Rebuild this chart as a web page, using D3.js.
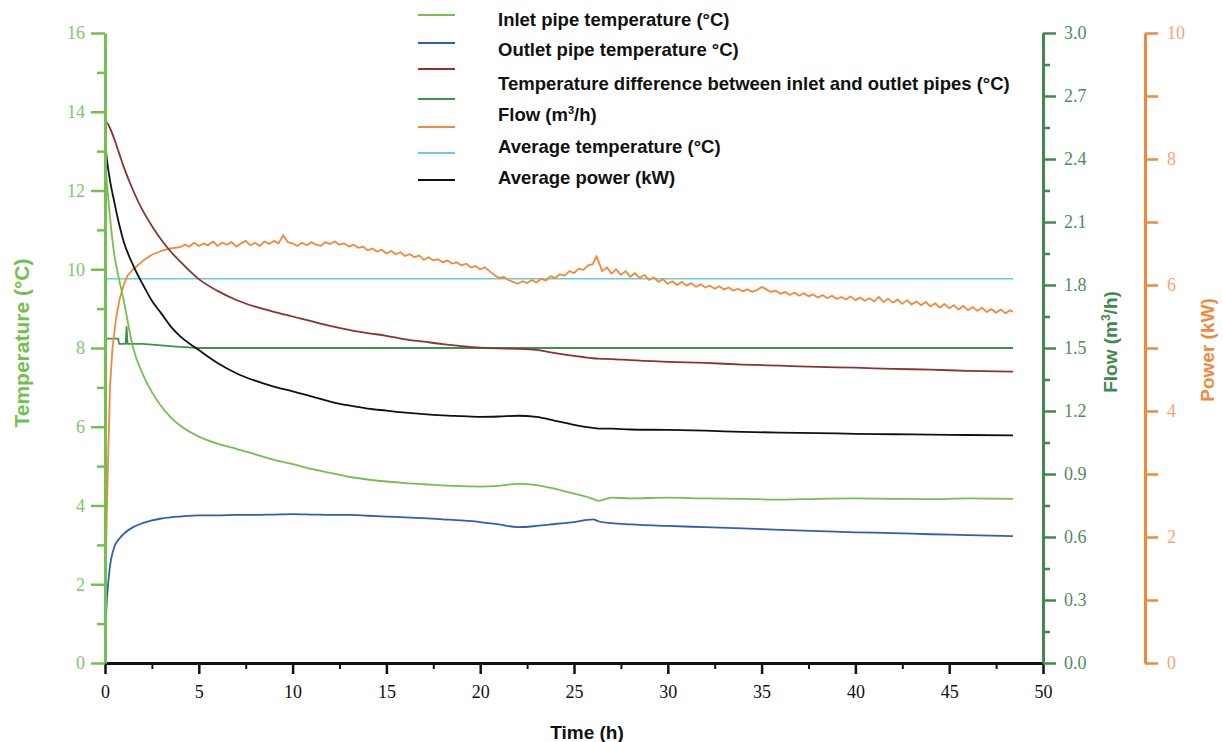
<!DOCTYPE html>
<html>
<head>
<meta charset="utf-8">
<script src="https://cdn.jsdelivr.net/npm/d3@7"></script>
<style>
  body { margin: 0; background: #fff; }
  text { font-family: "Liberation Sans", Arial, sans-serif; }
</style>
</head>
<body>
<script>
var width = 1223,
    height = 742;

// hours sampled for the smooth temperature curves
var hours = [0, 0.1, 0.25, 0.5, 0.75, 1, 1.5, 2, 2.5, 3, 3.5, 4, 5, 6, 7, 8, 9, 10, 11, 12, 13, 14,
    15, 16, 17, 18, 19, 20, 21, 22, 23, 24, 25, 26, 26.3, 27, 28, 30, 32, 34, 36, 38, 40, 42, 44, 46, 48.4];

var inletTemp = [12.8, 12.2, 11.4, 10.35, 9.75, 9.2, 8.0, 7.35, 6.88, 6.52, 6.24, 6.03, 5.75, 5.57, 5.44,
    5.3, 5.16, 5.05, 4.93, 4.83, 4.73, 4.66, 4.61, 4.57, 4.54, 4.51, 4.49, 4.48, 4.5, 4.55, 4.52, 4.42,
    4.3, 4.17, 4.12, 4.2, 4.18, 4.2, 4.18, 4.17, 4.15, 4.17, 4.18, 4.17, 4.16, 4.18, 4.17];

var outletTemp = [0.7, 1.6, 2.4, 2.95, 3.15, 3.28, 3.45, 3.55, 3.62, 3.67, 3.7, 3.72, 3.75, 3.75, 3.76,
    3.76, 3.77, 3.78, 3.77, 3.76, 3.76, 3.74, 3.72, 3.7, 3.68, 3.65, 3.62, 3.58, 3.52, 3.45, 3.48, 3.53,
    3.58, 3.65, 3.6, 3.55, 3.52, 3.48, 3.45, 3.42, 3.38, 3.35, 3.32, 3.3, 3.27, 3.25, 3.22];

var tempDiff = [13.72, 13.72, 13.6, 13.3, 12.95, 12.6, 12.0, 11.5, 11.1, 10.75, 10.45, 10.2, 9.75, 9.45,
    9.22, 9.05, 8.92, 8.8, 8.68, 8.56, 8.46, 8.38, 8.31, 8.22, 8.16, 8.1, 8.05, 8.01, 7.99, 7.98, 7.95,
    7.87, 7.8, 7.74, 7.73, 7.72, 7.69, 7.65, 7.62, 7.58, 7.55, 7.52, 7.5, 7.47, 7.45, 7.42, 7.4];

var blackCurve = [13.3, 12.8, 12.3, 11.7, 11.15, 10.7, 10.1, 9.63, 9.2, 8.88, 8.55, 8.3, 7.95, 7.62,
    7.36, 7.17, 7.02, 6.9, 6.77, 6.64, 6.54, 6.46, 6.41, 6.36, 6.32, 6.29, 6.27, 6.25, 6.26, 6.28, 6.25,
    6.15, 6.05, 5.97, 5.95, 5.95, 5.93, 5.92, 5.9, 5.87, 5.85, 5.84, 5.82, 5.81, 5.8, 5.79, 5.78];

// flow (m3/h)
var flowHours = [0, 0.7, 0.75, 1.1, 1.15, 1.2, 2, 4, 5, 48.4];
var flow = [1.545, 1.545, 1.52, 1.52, 1.6, 1.52, 1.52, 1.505, 1.5, 1.5];

// average temperature (°C)
var avgHours = [0, 48.4];
var avgTemp = [9.76, 9.76];

// orange curve (kW)
var powerHours = [0, 0.05, 0.1, 0.18, 0.27, 0.4, 0.6, 0.8, 1, 1.2, 1.5, 2, 2.5, 3, 3.5,
    4, 4.25, 4.5, 4.75, 5, 5.25, 5.5, 5.75, 6, 6.25, 6.5, 6.75, 7, 7.25, 7.5, 7.75,
    8, 8.25, 8.5, 8.75, 9, 9.25, 9.5, 9.75, 10, 10.25, 10.5, 10.75, 11, 11.25, 11.5, 11.75,
    12, 12.25, 12.5, 12.75, 13, 13.25, 13.5, 13.75, 14, 14.25, 14.5, 14.75, 15, 15.25, 15.5, 15.75,
    16, 16.25, 16.5, 16.75, 17, 17.25, 17.5, 17.75, 18, 18.25, 18.5, 18.75, 19, 19.25, 19.5, 19.75,
    20, 20.25, 20.5, 20.75, 21, 21.25, 21.5, 21.75, 22, 22.25, 22.5, 22.75, 23, 23.25, 23.5, 23.75,
    24, 24.25, 24.5, 24.75, 25, 25.25, 25.5, 25.75, 26, 26.2,
    26.5, 26.75, 27, 27.25, 27.5, 27.75, 28, 28.25, 28.5, 28.75, 29, 29.25, 29.5, 29.75,
    30, 30.25, 30.5, 30.75, 31, 31.25, 31.5, 31.75, 32, 32.25, 32.5, 32.75, 33, 33.25, 33.5, 33.75,
    34, 34.25, 34.5, 34.75, 35, 35.25, 35.5, 35.75, 36, 36.25, 36.5, 36.75, 37, 37.25, 37.5, 37.75,
    38, 38.25, 38.5, 38.75, 39, 39.25, 39.5, 39.75, 40, 40.25, 40.5, 40.75, 41, 41.25, 41.5, 41.75,
    42, 42.25, 42.5, 42.75, 43, 43.25, 43.5, 43.75, 44, 44.25, 44.5, 44.75, 45, 45.25, 45.5, 45.75,
    46, 46.25, 46.5, 46.75, 47, 47.25, 47.5, 47.75, 48, 48.25, 48.4];
var power = [0.6, 1.6, 2.4, 3.4, 4.4, 5.0, 5.5, 5.8, 6.0, 6.15, 6.25, 6.38, 6.48, 6.54, 6.58,
    6.60, 6.64, 6.61, 6.67, 6.62, 6.66, 6.63, 6.69, 6.62, 6.67, 6.64, 6.68, 6.61, 6.66, 6.70, 6.63,
    6.67, 6.62, 6.69, 6.65, 6.70, 6.66, 6.79, 6.68, 6.66, 6.62, 6.67, 6.63, 6.68, 6.64, 6.62, 6.68,
    6.65, 6.69, 6.64, 6.66, 6.61, 6.64, 6.59, 6.61, 6.55, 6.58, 6.53, 6.56, 6.50, 6.54, 6.49, 6.52,
    6.46, 6.49, 6.44, 6.47, 6.40, 6.44, 6.39, 6.41, 6.36, 6.39, 6.34, 6.36, 6.31, 6.34, 6.28, 6.30,
    6.25, 6.28, 6.22, 6.16, 6.11, 6.13, 6.08, 6.05, 6.02, 6.06, 6.03, 6.08, 6.04, 6.10, 6.07, 6.14,
    6.11, 6.17, 6.15, 6.22, 6.19, 6.26, 6.24, 6.31, 6.33, 6.46,
    6.22, 6.28, 6.18, 6.25, 6.16, 6.22, 6.13, 6.19, 6.11, 6.16, 6.08, 6.12, 6.05, 6.09,
    6.02, 6.06, 6.00, 6.05, 5.99, 6.03, 5.97, 6.01, 5.96, 5.99, 5.94, 5.98, 5.93, 5.96, 5.91, 5.94,
    5.90, 5.93, 5.89, 5.92, 5.97, 5.93, 5.89, 5.91, 5.86, 5.89, 5.84, 5.88, 5.83, 5.87, 5.82, 5.85,
    5.80, 5.84, 5.79, 5.83, 5.78, 5.81, 5.77, 5.82, 5.76, 5.80, 5.75, 5.79, 5.74, 5.81, 5.73, 5.78,
    5.72, 5.77, 5.70, 5.76, 5.69, 5.74, 5.68, 5.73, 5.66, 5.71, 5.64, 5.70, 5.63, 5.68, 5.61, 5.67,
    5.60, 5.65, 5.59, 5.64, 5.57, 5.62, 5.56, 5.61, 5.55, 5.60, 5.57];

var legendLabels = ["Inlet pipe temperature (°C)", "Outlet pipe temperature °C)",
    "Temperature difference between inlet and outlet pipes (°C)", "Flow (m³/h)",
    "Average temperature (°C)", "Average power (kW)"];
var legendColors = ["#74c04e", "#2f5fb5", "#8b3232", "#3f9150", "#f2893a", "#6ccbd9", "#111"];

var tempTicks = d3.range(0, 17, 2),
    flowTicks = d3.range(0, 3.01, 0.3),
    powerTicks = d3.range(0, 11, 2),
    timeTicks = d3.range(0, 51, 5);

var numFont = "'Liberation Serif', 'DejaVu Serif', serif";

var x = d3.scaleLinear().domain([0, 50]).range([105, 1043]);
var yT = d3.scaleLinear().domain([0, 16]).range([663, 33]);
var yF = d3.scaleLinear().domain([0, 3]).range([663, 33]);
var yP = d3.scaleLinear().domain([0, 10]).range([663, 33]);

var svg = d3.select("body").append("svg")
    .attr("width", width)
    .attr("height", height);

function pairs(xs, ys) {
    return xs.map(function(t, i) { return [t, ys[i]]; });
}

function drawLine(xs, ys, scale, color, curve, w) {
    svg.append("path")
        .datum(pairs(xs, ys))
        .attr("fill", "none")
        .attr("stroke", color)
        .attr("stroke-width", w || 1.8)
        .attr("stroke-linejoin", "round")
        .attr("d", d3.line()
            .x(function(d) { return x(d[0]); })
            .y(function(d) { return scale(d[1]); })
            .curve(curve || d3.curveLinear));
}

drawLine(avgHours, avgTemp, yT, "#6ccbd9", null, 1.6);
drawLine(flowHours, flow, yF, "#3f9150", null, 1.8);
drawLine(powerHours, power, yP, "#f2893a", null, 1.8);
drawLine(hours, tempDiff, yT, "#8b3232", d3.curveMonotoneX);
drawLine(hours, blackCurve, yT, "#111", d3.curveMonotoneX);
drawLine(hours, inletTemp, yT, "#74c04e", d3.curveMonotoneX);
drawLine(hours, outletTemp, yT, "#2f5fb5", d3.curveMonotoneX);

// axes
function styleAxis(g, color, labelColor) {
    g.selectAll("path").attr("stroke", color).attr("stroke-width", 3);
    g.selectAll("line").attr("stroke", color).attr("stroke-width", 2.5);
    g.selectAll("text")
        .attr("fill", labelColor)
        .style("font-family", numFont)
        .style("font-size", "18px");
}

// bottom axis
var gx = svg.append("g").attr("transform", "translate(0,663)");
gx.call(d3.axisBottom(x).tickValues(d3.range(2.5, 50, 5)).tickSize(6).tickFormat(""))
    .call(function(g) { g.select("path").remove(); });
gx.selectAll("line").attr("stroke", "#111").attr("stroke-width", 2);
var gx2 = svg.append("g").attr("transform", "translate(0,663)");
gx2.call(d3.axisBottom(x).tickValues(timeTicks).tickSize(11).tickSizeOuter(0).tickPadding(9).tickFormat(d3.format("d")));
styleAxis(gx2, "#111", "#111");
gx2.selectAll("text").attr("dy", "0.85em");

// left temperature axis
var gl = svg.append("g").attr("transform", "translate(105,0)");
gl.call(d3.axisLeft(yT).tickValues(d3.range(1, 16, 2)).tickSize(8).tickFormat(""))
    .call(function(g) { g.select("path").remove(); });
gl.selectAll("line").attr("stroke", "#74c04e").attr("stroke-width", 2.5);
var gl2 = svg.append("g").attr("transform", "translate(105,0)");
gl2.call(d3.axisLeft(yT).tickValues(tempTicks).tickSize(14).tickSizeOuter(0).tickPadding(6));
styleAxis(gl2, "#74c04e", "#82c56a");

// flow axis
var gf = svg.append("g").attr("transform", "translate(1043,0)");
gf.call(d3.axisRight(yF).tickValues(d3.range(0.15, 3, 0.3)).tickSize(7).tickFormat(""))
    .call(function(g) { g.select("path").remove(); });
gf.selectAll("line").attr("stroke", "#3f8a4c").attr("stroke-width", 2.5);
var gf2 = svg.append("g").attr("transform", "translate(1043,0)");
gf2.call(d3.axisRight(yF).tickValues(flowTicks).tickSize(13).tickSizeOuter(0).tickPadding(8).tickFormat(d3.format(".1f")));
styleAxis(gf2, "#3f8a4c", "#4f8c5a");

// power axis
var gp = svg.append("g").attr("transform", "translate(1145,0)");
gp.call(d3.axisRight(yP).tickValues(d3.range(1, 10, 2)).tickSize(13).tickFormat(""))
    .call(function(g) { g.select("path").remove(); });
gp.selectAll("line").attr("stroke", "#f2893a").attr("stroke-width", 2.5);
var gp2 = svg.append("g").attr("transform", "translate(1145,0)");
gp2.call(d3.axisRight(yP).tickValues(powerTicks).tickSize(13).tickSizeOuter(0).tickPadding(9).tickFormat(d3.format("d")));
styleAxis(gp2, "#f2893a", "#f3a574");

// axis titles
svg.append("text")
    .attr("transform", "translate(29,343) rotate(-90)")
    .attr("text-anchor", "middle")
    .attr("fill", "#74c04e")
    .style("font-size", "21px").style("font-weight", "bold")
    .text("Temperature (°C)");

var ft = svg.append("text")
    .attr("transform", "translate(1117,342) rotate(-90)")
    .attr("text-anchor", "middle")
    .attr("fill", "#3f8a4c")
    .style("font-size", "19px").style("font-weight", "bold");
ft.append("tspan").text("Flow (m");
ft.append("tspan").attr("dy", -7).style("font-size", "12px").text("3");
ft.append("tspan").attr("dy", 7).text("/h)");

svg.append("text")
    .attr("transform", "translate(1214,350) rotate(-90)")
    .attr("text-anchor", "middle")
    .attr("fill", "#f2893a")
    .style("font-size", "19px").style("font-weight", "bold")
    .text("Power (kW)");

svg.append("text")
    .attr("x", 587).attr("y", 739)
    .attr("text-anchor", "middle")
    .attr("fill", "#111")
    .style("font-size", "19px").style("font-weight", "bold")
    .text("Time (h)");

// legend
var lineYs = [15, 43, 69, 99, 127, 153, 180];
svg.selectAll(".lg-line")
    .data(legendColors)
    .enter().append("line")
    .attr("x1", 418).attr("x2", 455)
    .attr("y1", function(d, i) { return lineYs[i]; })
    .attr("y2", function(d, i) { return lineYs[i]; })
    .attr("stroke", function(d) { return d; })
    .attr("stroke-width", 1.8);

var labelYs = [20, 50, 84, 115, 147, 178];
var lt = svg.selectAll(".lg-text")
    .data(legendLabels)
    .enter().append("text")
    .attr("x", 498)
    .attr("y", function(d, i) { return labelYs[i]; })
    .attr("dy", "0.35em")
    .attr("fill", "#111")
    .style("font-size", "18.5px").style("font-weight", "bold");
lt.each(function(d) {
    var t = d3.select(this);
    if (d.indexOf("³") >= 0) {
        t.append("tspan").text("Flow (m");
        t.append("tspan").attr("dy", -7).style("font-size", "11px").text("3");
        t.append("tspan").attr("dy", 7).text("/h)");
    } else {
        t.text(d);
    }
});
</script>
</body>
</html>
